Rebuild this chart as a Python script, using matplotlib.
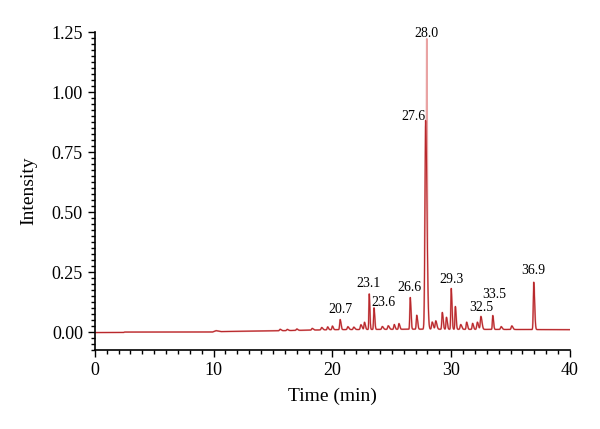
import numpy as np
import matplotlib
matplotlib.use("Agg")
import matplotlib.pyplot as plt
from matplotlib.ticker import MultipleLocator

# peaks: retention time (min), height above baseline
peak_t = [15.6, 16.2, 17.0, 18.3, 19.1, 19.6, 20.0, 20.65, 21.3, 21.8, 22.4, 22.7,
          23.1, 23.5, 24.2, 24.7, 25.2, 25.6, 26.55, 27.1, 27.85, 28.4, 28.7,
          29.25, 29.6, 30.0, 30.35, 30.8, 31.3, 31.8, 32.2, 32.5, 33.5, 34.2,
          35.1, 36.95]
peak_h = [0.006, 0.005, 0.006, 0.007, 0.01, 0.012, 0.015, 0.042, 0.012, 0.01,
          0.02, 0.03, 0.148, 0.09, 0.012, 0.015, 0.02, 0.024, 0.132, 0.058, 0.87,
          0.03, 0.035, 0.07, 0.05, 0.17, 0.095, 0.02, 0.03, 0.025, 0.03, 0.054,
          0.058, 0.012, 0.015, 0.197]
peak_w = [0.05, 0.05, 0.05, 0.05, 0.05, 0.04, 0.04, 0.04, 0.05, 0.05,
          0.05, 0.04, 0.03, 0.035, 0.05, 0.05, 0.04, 0.04, 0.035, 0.04, 0.06,
          0.05, 0.05, 0.04, 0.04, 0.035, 0.035, 0.05, 0.04, 0.04, 0.05, 0.05,
          0.035, 0.05, 0.05, 0.04]
# second (lighter) trace reaching the tallest point
main_t = [27.95]
main_h = [1.21]

# baseline level read at a few times
base_t = [0.0, 2.4, 2.5, 9.9, 10.2, 10.6, 15.0, 20.0, 27.0, 40.0]
base_v = [-0.002, -0.002, 0.0, 0.0, 0.006, 0.002, 0.005, 0.01, 0.012, 0.01]

labels = ["20.7", "23.1", "23.6", "26.6", "27.6", "28.0", "29.3", "32.5", "33.5", "36.9"]
label_x = [20.7, 23.05, 24.3, 26.5, 26.8, 27.9, 30.05, 32.5, 33.6, 36.9]
label_y = [0.092, 0.204, 0.122, 0.185, 0.90, 1.245, 0.221, 0.101, 0.158, 0.258]

t = np.linspace(0, 40, 8001)
base = np.interp(t, base_t, base_v)
trace = base.copy()
for pt, ph, pw in zip(peak_t, peak_h, peak_w):
    # slight tailing: wider on the right side
    sig = np.where(t < pt, pw, pw * 1.8)
    trace += ph * np.exp(-0.5 * ((t - pt) / sig) ** 2)
trace2 = trace.copy()
for pt, ph in zip(main_t, main_h):
    trace2 = np.maximum(trace2, base + ph * np.exp(-0.5 * ((t - pt) / 0.03) ** 2))

plt.rcParams["font.family"] = "Liberation Serif"

fig = plt.figure(figsize=(6, 4.29), dpi=100)
ax = fig.add_axes([0.158, 0.184, 0.792, 0.741])

ax.plot(t, trace2, color="#e9a3a3", lw=1.3)
ax.plot(t, trace, color="#b8282c", lw=0.8)

for lab, lx, ly in zip(labels, label_x, label_y):
    ax.text(lx, ly, lab, ha="center", va="center", fontsize=10)

ax.set_xlim(0, 40)
ax.set_ylim(-0.075, 1.25)
ax.set_xticks([0, 10, 20, 30, 40])
ax.set_yticks([0.0, 0.25, 0.5, 0.75, 1.0, 1.25])
ax.set_yticklabels(["0.00", "0.25", "0.50", "0.75", "1.00", "1.25"])
ax.xaxis.set_minor_locator(MultipleLocator(1))
ax.yaxis.set_minor_locator(MultipleLocator(0.025))
ax.tick_params(which="major", length=5, width=1, labelsize=13, direction="out")
ax.tick_params(which="minor", length=3, width=1, direction="out")
ax.spines["top"].set_visible(False)
ax.spines["right"].set_visible(False)
ax.spines["left"].set_linewidth(1.2)
ax.spines["bottom"].set_linewidth(1.2)

ax.set_xlabel("Time (min)", fontsize=14, labelpad=6)
ax.set_ylabel("Intensity", fontsize=14, labelpad=10)

fig.savefig("out.png", dpi=100)
